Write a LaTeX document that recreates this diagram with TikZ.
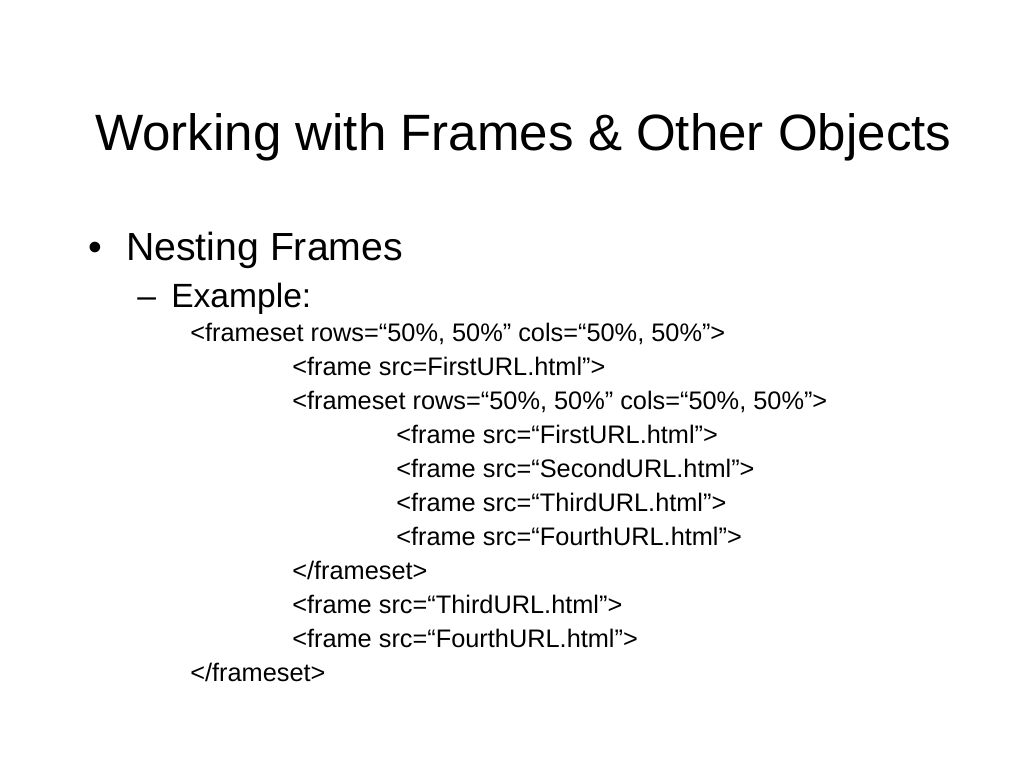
\documentclass[tikz,border=0pt]{standalone}
\usepackage{fontspec}
\setmainfont{Liberation Sans}
\usetikzlibrary{positioning}

\begin{document}
\begin{tikzpicture}[x=0.75pt,y=-0.75pt,
    every node/.style={inner sep=0pt,anchor=base west},
    slidetitle/.style={font=\fontsize{38.3}{46}\selectfont},
    lvlone/.style={font=\fontsize{29.4}{35}\selectfont},
    lvltwo/.style={font=\fontsize{25.2}{30}\selectfont},
    codeline/.style={font=\fontsize{19}{23}\selectfont}]
    \useasboundingbox (0,0) rectangle (1024,768);

    \node[slidetitle] (title) at (95,150) {Working with Frames \& Other Objects};

    \node[lvlone] (bul) at (88,260) {•};
    \node[lvlone] (nest) at (126,260) {Nesting Frames};
    \node[lvltwo] (dash) at (137,307) {–};
    \node[lvltwo] (ex) at (171,307) {Example:};

    % code lines
    \node[codeline] (c1) at (190,341) {<frameset rows=“50\%, 50\%” cols=“50\%, 50\%”>};
    \node[codeline] (c2) at (292,375) {<frame src=FirstURL.html”>};
    \node[codeline] (c3) at (292,409) {<frameset rows=“50\%, 50\%” cols=“50\%, 50\%”>};
    \node[codeline] (c4) at (396,443) {<frame src=“FirstURL.html”>};
    \node[codeline] (c5) at (396,477) {<frame src=“SecondURL.html”>};
    \node[codeline] (c6) at (396,511) {<frame src=“ThirdURL.html”>};
    \node[codeline] (c7) at (396,545) {<frame src=“FourthURL.html”>};
    \node[codeline] (c8) at (292,579) {</frameset>};
    \node[codeline] (c9) at (292,613) {<frame src=“ThirdURL.html”>};
    \node[codeline] (c10) at (292,647) {<frame src=“FourthURL.html”>};
    \node[codeline] (c11) at (190,681) {</frameset>};
\end{tikzpicture}
\end{document}
